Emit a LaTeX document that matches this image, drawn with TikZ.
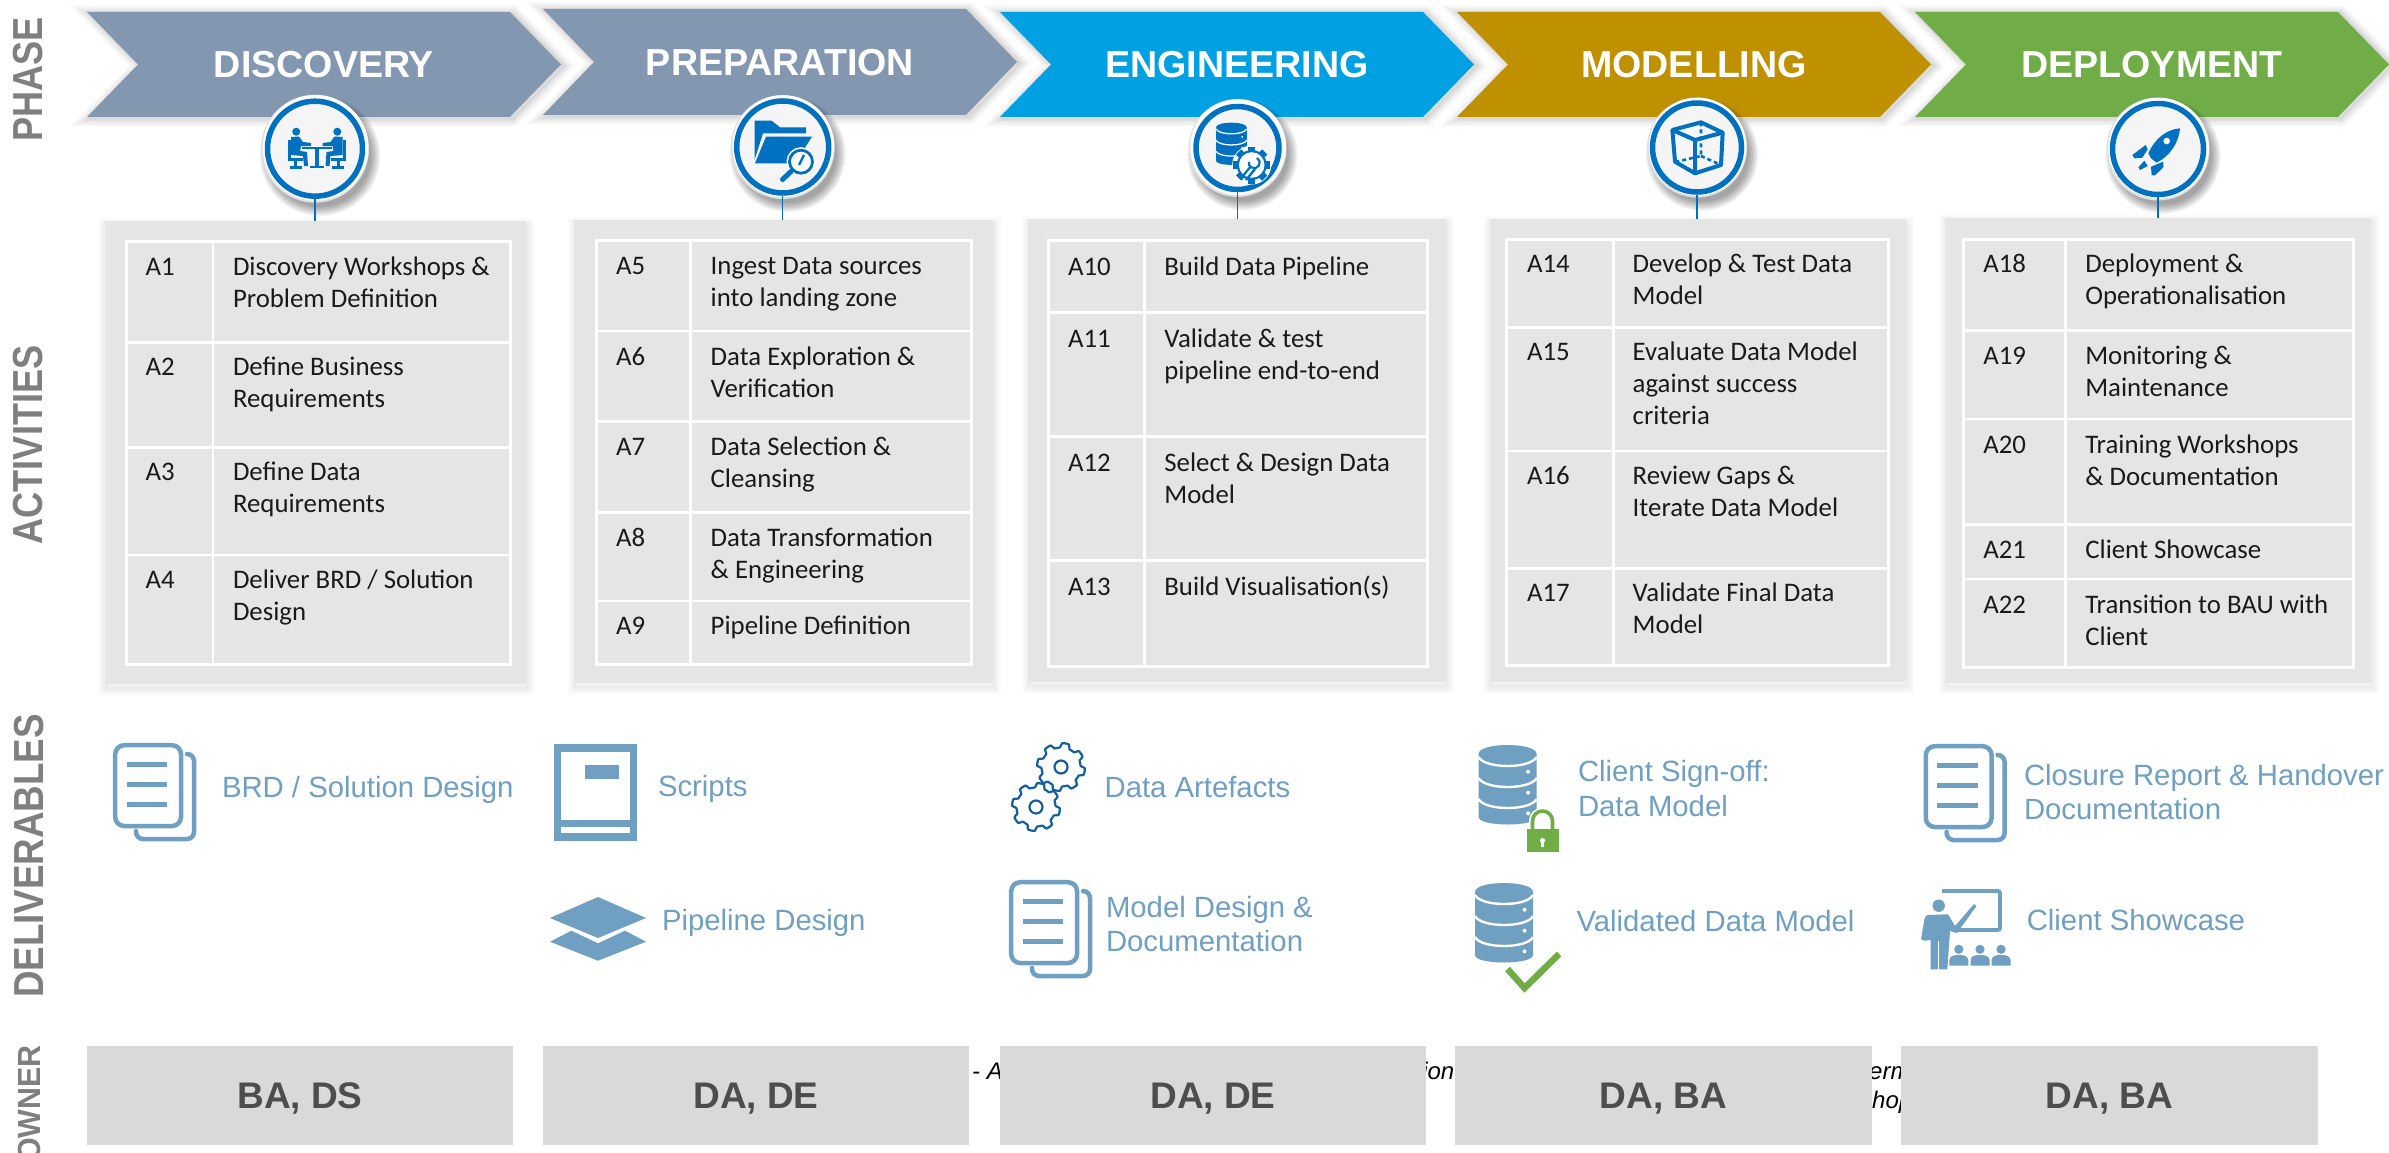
\documentclass[tikz,border=0pt]{standalone}
\usepackage{fontspec}
\setmainfont{Liberation Sans}
\newfontfamily\calfont{Carlito}
\usetikzlibrary{fit}
\definecolor{chevslate}{HTML}{8497B0}
\definecolor{chevcyan}{HTML}{00A0E3}
\definecolor{chevgold}{HTML}{BF9000}
\definecolor{chevgreen}{HTML}{70AD47}
\definecolor{ringblue}{HTML}{0070C0}
\definecolor{delivblue}{HTML}{6F9FC1}
\definecolor{gearblue}{HTML}{135E9E}
\definecolor{panelgrey}{HTML}{E5E5E5}
\definecolor{ownergrey}{HTML}{D9D9D9}
\definecolor{ownertext}{HTML}{4D4D4D}
\definecolor{sidetext}{HTML}{7F7F7F}
\definecolor{celltextc}{HTML}{1A1A1A}
\tikzset{
  sidelabel/.style={rotate=90,inner sep=0,text=sidetext,font=\bfseries\fontsize{42}{46}\selectfont},
  phasetext/.style={anchor=base,inner sep=0,text=white,font=\bfseries\fontsize{37.6}{44}\selectfont},
  panelbox/.style={inner sep=0,outer sep=0,fill=panelgrey},
  celltext/.style={anchor=north west,inner sep=0,outer sep=0,align=left,text=celltextc,font=\calfont\fontsize{26.8}{32}\selectfont},
  delivtext/.style={anchor=north west,inner sep=0,outer sep=0,align=left,text=delivblue,font=\fontsize{29.3}{34.7}\selectfont},
  ownerbox/.style={inner sep=0,outer sep=0,fill=ownergrey},
  ownerlabel/.style={anchor=base,inner sep=0,text=ownertext,font=\bfseries\fontsize{37}{42}\selectfont},
  hiddentext/.style={inner sep=0,text=black,font=\itshape\fontsize{24}{28}\selectfont},
  ringnode/.style={circle,draw=ringblue,line width=5.5pt,fill=black!4,inner sep=0},
  stemline/.style={draw=ringblue,line width=1.2pt},
  iconfill/.style={fill=delivblue,draw=none},
  iconline/.style={draw=delivblue,line width=4.5pt}
}
% chevron: x-left, top, bottom, colour
\newcommand{\chevpath}[3]{(#1,#2) -- ({#1+423},#2) -- ({#1+474},{(#2+#3)/2}) -- ({#1+423},#3) -- (#1,#3) -- ({#1+51},{(#2+#3)/2}) -- cycle}
\newcommand{\chevron}[4]{%
  \foreach \w in {16,12,8,5,2}{\draw[black,draw opacity=.032,line width=\w pt,shift={(2.5,1.5)}] \chevpath{#1}{#2}{#3};}
  \fill[#4] \chevpath{#1}{#2}{#3};}
% panel shadow, panel
\newcommand{\panel}[5]{%
  \foreach \w in {14,11,8,5,2}{\draw[black,draw opacity=.014,line width=\w pt,shift={(1,4)}] (#2,#3) rectangle (#4,#5);}
  \node[panelbox,fit={(#2,#3)(#4,#5)}] (#1) {};}
\newcommand{\tablegrid}[6]{%
  \draw[white,line width=3pt] (#1,#4) rectangle (#2,#5);
  \draw[white,line width=2.6pt] (#3,#4) -- (#3,#5);
  \foreach \r in {#6}{\draw[white,line width=2.6pt] (#1,\r) -- (#2,\r);}}
\newcommand{\cellt}[4]{\node[celltext] (#1) at (#2,{#3-20}) {\rule{0pt}{20pt}#4};}
\newcommand{\dlabel}[4]{\node[delivtext] (#1) at (#2,{#3-24}) {\rule{0pt}{24pt}#4};}
% badge
\newcommand{\badge}[5]{% name x y ringr outerr
  \foreach \k in {0,...,7}{\fill[black,fill opacity=.05] ({#2+5},{#3+7}) circle ({#5-3+\k*1.3});}
  \fill[black!12] (#2,#3) circle (#5);
  \fill[white] ({#2+.5},{#3-.8}) circle ({#5-1.2});
  \node[ringnode,minimum size={2*#4 pt}] (#1) at (#2,#3) {};}
% document icon
\newcommand{\docicon}[2]{\begin{scope}[shift={(#1,#2)}]
  \draw[iconline,rounded corners=9pt] (2.2,2.2) rectangle (68,83);
  \draw[iconline,rounded corners=7pt,line cap=round] (74,11) -- (81,11) -- (81,96) -- (23,96) -- (23,88);
  \foreach \v in {21,41,61}{\fill[delivblue] (13.5,{\v-2.5}) rectangle (54,{\v+2.5});}
\end{scope}}
% database icon
\newcommand{\dbicon}[4]{\begin{scope}[shift={(#1,#2)},scale=#3]
  \fill[#4] (0,9) .. controls (0,-3) and (58,-3) .. (58,9) -- (58,72) .. controls (58,82) and (0,82) .. (0,72) -- cycle;
  \foreach \v in {12,33,54}{\draw[white,line width={#3*2.4pt}] (0,\v) .. controls (6,{\v+12}) and (52,{\v+12}) .. (58,\v);}
  \foreach \v in {26.7,47.7,68.3}{\fill[white] (49.5,\v) circle (2);}
\end{scope}}
\newcommand{\gearring}[4]{\draw[gearblue,line width=2.2pt,line join=round] plot[domain=0:360,samples=145,variable=\t] ({#1+(#3+#4)/2*cos(\t)+(#3-#4)/2*max(-1,min(1,2.5*sin(8*\t)))*cos(\t)},{#2+(#3+#4)/2*sin(\t)+(#3-#4)/2*max(-1,min(1,2.5*sin(8*\t)))*sin(\t)}) -- cycle;
  \draw[gearblue,line width=2.2pt] (#1,#2) circle (6.5);}
\newcommand{\meetperson}{%
  \fill[ringblue] (296.2,131.7) circle (4);
  \fill[ringblue] (291,137) -- (299,136.5) -- (303,142) -- (311,143) -- (311,146) -- (301,146) -- (300,151) -- (307,152) -- (308,166) -- (304,166) -- (303,156) -- (291,155) -- cycle;
  \fill[ringblue] (288,140) rectangle (290.5,160);
  \fill[ringblue] (288,158) rectangle (303,160.5);
  \fill[ringblue] (294,160) rectangle (297,166);
  \fill[ringblue] (290,166) rectangle (302,168.5);}
\begin{document}
\begin{tikzpicture}[x=1pt,y=-1pt]
\useasboundingbox (0,0) rectangle (2389,1153);
\fill[white] (0,0) rectangle (2389,1153);
% side labels
\node[sidelabel] (lphase) at (28.5,79.5) {\scalebox{.86}[1]{PHASE}};
\node[sidelabel] (lact) at (28.5,445) {\scalebox{.86}[1]{ACTIVITIES}};
\node[sidelabel] (ldel) at (29.5,856) {\scalebox{.875}[1]{DELIVERABLES}};
\node[sidelabel,anchor=east,font=\bfseries\fontsize{32}{36}\selectfont] (lown) at (29.5,1045) {\scalebox{.95}[1]{OWNER}};
% chevrons
\chevron{87}{12}{117}{chevslate}
\chevron{543}{9}{115}{chevslate}
\chevron{1000}{12}{117}{chevcyan}
\chevron{1457}{12}{117}{chevgold}
\chevron{1915}{12}{117}{chevgreen}
\node[phasetext] (t1) at (324,77.7) {DISCOVERY};
\node[phasetext] (t2) at (780,76) {PREPARATION};
\node[phasetext] (t3) at (1237,77.7) {ENGINEERING};
\node[phasetext] (t4) at (1694,77.7) {MODELLING};
\node[phasetext] (t5) at (2152,77.7) {DEPLOYMENT};
% panels
\panel{p1}{104.5}{221}{526}{684}
\panel{p2}{574}{220}{992.5}{683}
\panel{p3}{1028}{219}{1445.5}{682}
\panel{p4}{1489.5}{219}{1906}{682}
\panel{p5}{1945}{217.5}{2371}{683}
% badges
\badge{c1}{315}{148.7}{47.5}{54}
\badge{c2}{782.7}{147}{46}{52}
\badge{c3}{1237.5}{148}{41.5}{49}
\badge{c4}{1697}{147.5}{44.5}{50}
\badge{c5}{2158}{149}{45.5}{51.5}
\foreach \i in {1,...,5}{\draw[stemline] (c\i.south) -- (c\i.south |- p\i.north);}
% c1 icon
\meetperson
\begin{scope}[shift={(633.5,0)},xscale=-1]\meetperson\end{scope}
\fill[ringblue] (302,146.7) rectangle (332,149.3);
\fill[ringblue] (314.7,149) rectangle (319,166);
\fill[ringblue] (310,166) rectangle (324,168.2);
% c2 icon
\fill[ringblue] (754.5,120.7) -- (771.5,120.7) -- (780,127.3) -- (806,127.3) -- (806,133.3) -- (763,133.3) -- (754.5,160) -- cycle;
\fill[ringblue] (766,136.7) -- (812,136.7) -- (795,163.3) -- (755,163.3) -- cycle;
\draw[white,line width=5pt] (801,161.7) circle (12);
\fill[white] (801,161.7) circle (11);
\draw[ringblue,line width=2.8pt] (801,161.7) circle (11.5);
\draw[ringblue,line width=2.4pt] (804,155) -- (799,165);
\draw[ringblue,line width=5pt,line cap=round] (791,171.5) -- (782.5,179.5);
% c3 icon
\dbicon{1216}{122.7}{.53}{ringblue}
\fill[white] (1251.7,165) circle (19.5);
\foreach \a in {0,45,...,315}{\fill[ringblue,rotate around={\a:(1251.7,165)}] (1248,146.5) rectangle (1255.4,153);}
\fill[ringblue] (1251.7,165) circle (15);
\fill[white] (1251.7,165) circle (12.8);
\draw[ringblue,line width=2.2pt] (1242,177) -- (1251,166);
\draw[ringblue,line width=2.2pt] (1257,158) arc (-60:190:5.5);
\draw[ringblue,line width=2.4pt] (1246,180) -- (1255,169);
% c4 icon
\begin{scope}[shift={(1640,90)},scale=1/3]
  \draw[ringblue,line width=4pt,line join=round] (97,120) -- (183,97) -- (248,128) -- (243,225) -- (165,250) -- (105,215) -- cycle;
  \draw[ringblue,line width=4pt,line join=round] (97,120) -- (165,150) -- (248,128) (165,150) -- (165,250);
  \draw[ringblue,line width=2.6pt,dash pattern=on 4pt off 3pt] (183,97) -- (183,198) -- (110,215) (183,198) -- (243,225);
\end{scope}
% c5 icon
\begin{scope}[shift={(2095,90)},scale=1/3]
  \fill[ringblue] (255,115) .. controls (215,118) and (180,145) .. (160,190) -- (168,205) -- (185,218) .. controls (220,200) and (250,165) .. (255,115) -- cycle;
  \fill[white] (215,153) circle (10);
  \fill[ringblue] (152,165) -- (112,195) -- (118,205) -- (142,203) -- (158,178) -- cycle;
  \fill[ringblue] (205,215) -- (168,230) -- (170,256) -- (180,256) -- (205,232) -- cycle;
  \fill[ringblue] (148,212) -- (130,232) -- (135,240) -- (158,228) -- cycle;
\end{scope}
% tables
\tablegrid{126}{510.5}{213}{241.7}{664}{342.7,447.7,555}
\tablegrid{596}{971.6}{690.5}{240.7}{664}{331,421.7,512.7,601}
\tablegrid{1048}{1427}{1144.4}{240.7}{666}{312.7,436.7,560.7}
\tablegrid{1506.5}{1888.5}{1613.3}{239.3}{665.7}{327.3,451,568.3}
\tablegrid{1963.3}{2353.7}{2065.7}{239.3}{667.3}{330.7,419,524.7,579}
\cellt{a1}{145.5}{275}{A1}\cellt{d1}{233}{275}{Discovery Workshops \&\\Problem Definition}
\cellt{a2}{145.5}{375}{A2}\cellt{d2}{233}{375}{Define Business\\Requirements}
\cellt{a3}{145.5}{480}{A3}\cellt{d3}{233}{480}{Define Data\\Requirements}
\cellt{a4}{145.5}{588}{A4}\cellt{d4}{233}{588}{Deliver BRD / Solution\\Design}
\cellt{a5}{616}{274.7}{A5}\cellt{d5}{710.7}{274.7}{Ingest Data sources\\into landing zone}
\cellt{a6}{616}{365.7}{A6}\cellt{d6}{710.7}{365.7}{Data Exploration \&\\Verification}
\cellt{a7}{616}{455.7}{A7}\cellt{d7}{710.7}{455.7}{Data Selection \&\\Cleansing}
\cellt{a8}{616}{546.7}{A8}\cellt{d8}{710.7}{546.7}{Data Transformation\\\& Engineering}
\cellt{a9}{616}{634.7}{A9}\cellt{d9}{710.7}{634.7}{Pipeline Definition}
\cellt{a10}{1068}{275}{A10}\cellt{d10}{1164.4}{275}{Build Data Pipeline}
\cellt{a11}{1068}{347}{A11}\cellt{d11}{1164.4}{347}{Validate \& test\\pipeline end-to-end}
\cellt{a12}{1068}{471}{A12}\cellt{d12}{1164.4}{471}{Select \& Design Data\\Model}
\cellt{a13}{1068}{595}{A13}\cellt{d13}{1164.4}{595}{Build Visualisation(s)}
\cellt{a14}{1527}{272.7}{A14}\cellt{d14}{1632.7}{272.7}{Develop \& Test Data\\Model}
\cellt{a15}{1527}{360.7}{A15}\cellt{d15}{1632.7}{360.7}{Evaluate Data Model\\against success\\criteria}
\cellt{a16}{1527}{484.7}{A16}\cellt{d16}{1632.7}{484.7}{Review Gaps \&\\Iterate Data Model}
\cellt{a17}{1527}{601.7}{A17}\cellt{d17}{1632.7}{601.7}{Validate Final Data\\Model}
\cellt{a18}{1983.3}{272.7}{A18}\cellt{d18}{2085.3}{272.7}{Deployment \&\\Operationalisation}
\cellt{a19}{1983.3}{364}{A19}\cellt{d19}{2085.3}{364}{Monitoring \&\\Maintenance}
\cellt{a20}{1983.3}{453.3}{A20}\cellt{d20}{2085.3}{453.3}{Training Workshops\\\& Documentation}
\cellt{a21}{1983.3}{558.7}{A21}\cellt{d21}{2085.3}{558.7}{Client Showcase}
\cellt{a22}{1983.3}{613.3}{A22}\cellt{d22}{2085.3}{613.3}{Transition to BAU with\\Client}
% deliverables: icons
\docicon{113}{743}
\docicon{1009}{880}
\docicon{1923.6}{744}
% book
\fill[delivblue] (554,744) rectangle (637,840.7);
\fill[white] (561,751.7) rectangle (630,820);
\fill[white] (561,827) rectangle (630,833);
\fill[delivblue] (585,765) rectangle (619,779);
% layers
\fill[delivblue] (550,918) -- (598,897) -- (646,918) -- (598,938) -- cycle;
\fill[delivblue] (550,941.7) -- (571.4,930.7) -- (598,943.3) -- (625,930.7) -- (646,941.7) -- (598,960.7) -- cycle;
% gears
\gearring{1061}{767}{24}{19.5}
\gearring{1036}{807}{24}{19.5}
% db + lock
\dbicon{1478.6}{745}{1}{delivblue}
\dbicon{1475}{883}{1}{delivblue}
\draw[white,line width=7pt] (1532.5,832) -- (1532.5,821) arc (180:360:10) -- (1552.5,832);
\draw[chevgreen,line width=3.6pt] (1532.5,832) -- (1532.5,821) arc (180:360:10) -- (1552.5,832);
\fill[chevgreen] (1526.5,829) rectangle (1559,852.3);
\fill[white] (1542.5,840.5) circle (2.6);
\fill[white] (1541.3,841) rectangle (1543.7,847);
\draw[chevgreen,line width=6.5pt] (1507.5,969) -- (1524.5,988) -- (1559,954);
% presenter
\draw[delivblue,line width=3.6pt,rounded corners=2pt] (1942,891) -- (2000,891) -- (2000,930) -- (1958,930);
\fill[delivblue] (1938.7,905.7) circle (6.2);
\fill[delivblue] (1927.1,915) -- (1948,914.3) -- (1955,926) -- (1974,904) -- (1976.5,906) -- (1957,933) -- (1950,931) -- (1947.3,969.3) -- (1930.6,969.3) -- (1930.6,940) -- (1924.6,940.7) -- (1921,939.3) -- (1924.6,918.3) -- cycle;
\draw[white,line width=1.3pt] (1938.8,941) -- (1938.8,970);
\foreach \v in {1958.8,1980,2001}{
  \fill[delivblue] (\v,949.3) circle (4.6);
  \fill[delivblue] ({\v-9.5},965.7) -- ({\v-9.5},960) .. controls ({\v-9},955) and ({\v-3},955) .. (\v,955) .. controls ({\v+3},955) and ({\v+9},955) .. ({\v+9.5},960) -- ({\v+9.5},965.7) -- cycle;}
% deliverable labels
\dlabel{b1}{222}{797}{BRD / Solution Design}
\dlabel{b2}{658}{796.7}{Scripts}
\dlabel{b3}{662}{930.7}{Pipeline Design}
\dlabel{b4}{1104.6}{797}{Data Artefacts}
\dlabel{b5}{1106}{917}{Model Design \&\\Documentation}
\dlabel{b6}{1578}{781.7}{Client Sign-off:\\Data Model}
\dlabel{b7}{1576.5}{931}{Validated Data Model}
\dlabel{b8}{2024}{785}{Closure Report \& Handover\\Documentation}
\dlabel{b9}{2026.8}{930.7}{Client Showcase}
% text partly hidden behind the owner boxes
\node[hiddentext,anchor=base west] (h1) at (972,1079) {- A};
\node[hiddentext,anchor=base east] (h2) at (1454.5,1079) {ion};
\node[hiddentext,anchor=base west] (h3) at (1869,1079) {erm};
\node[hiddentext,anchor=base west] (h4) at (1872,1108) {hop};
% owner boxes
\node[ownerbox,fit={(87,1046)(513,1145)}] (o1) {};
\node[ownerbox,fit={(543,1046)(969,1145)}] (o2) {};
\node[ownerbox,fit={(1000,1046)(1426,1145)}] (o3) {};
\node[ownerbox,fit={(1455,1046)(1872,1145)}] (o4) {};
\node[ownerbox,fit={(1901,1046)(2318,1145)}] (o5) {};
\node[ownerlabel] (ot1) at (o1.center |- 0,1108) {BA, DS};
\node[ownerlabel] (ot2) at (o2.center |- 0,1108) {DA, DE};
\node[ownerlabel] (ot3) at (o3.center |- 0,1108) {DA, DE};
\node[ownerlabel] (ot4) at (o4.center |- 0,1108) {DA, BA};
\node[ownerlabel] (ot5) at (o5.center |- 0,1108) {DA, BA};
\end{tikzpicture}
\end{document}
